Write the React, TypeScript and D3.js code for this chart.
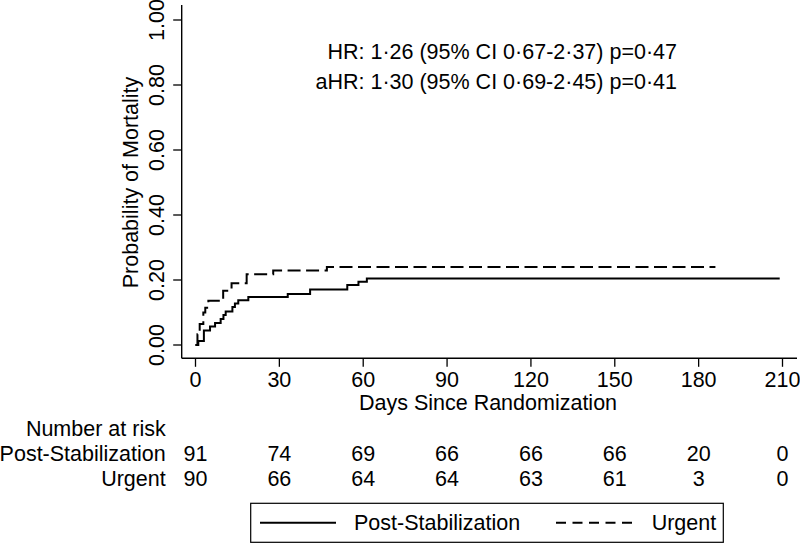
import React from "react";
import * as d3 from "d3";

const tickDays = [0, 30, 60, 90, 120, 150, 180, 210];
const yTicks = [0, 0.2, 0.4, 0.6, 0.8, 1.0];
const riskPost = [91, 74, 69, 66, 66, 66, 20, 0];
const riskUrgent = [90, 66, 64, 64, 63, 61, 3, 0];

const postTimes = [0, 1, 3, 5.2, 7, 9, 10, 10.8, 13.2, 14.1, 15.3, 18.9, 33, 41, 54.3, 58.3, 61.3];
const postProb = [0, 0.012, 0.045, 0.057, 0.068, 0.08, 0.092, 0.103, 0.117, 0.128, 0.138, 0.148, 0.157, 0.171, 0.185, 0.195, 0.205];
const postEnd = 209;

const urgTimes = [0, 0.7, 1.5, 2.8, 3.5, 4.6, 9.9, 12.9, 18.3, 27.8, 47];
const urgProb = [0, 0.033, 0.065, 0.1, 0.115, 0.136, 0.167, 0.19, 0.218, 0.229, 0.24];
const urgEnd = 186;

const annotations = [
  "HR: 1·26 (95% CI 0·67-2·37) p=0·47",
  "aHR: 1·30 (95% CI 0·69-2·45) p=0·41",
];

const FONT = "'Liberation Sans', Arial, sans-serif";
const FS = 21.5;

export default function App() {
  const x = d3.scaleLinear().domain([0, 210]).range([195.5, 782.5]);
  const y = d3.scaleLinear().domain([0, 1]).range([345, 20]);

  const line = d3
    .line<[number, number]>()
    .x((d) => x(d[0]))
    .y((d) => y(d[1]))
    .curve(d3.curveStepAfter);

  const postPts: [number, number][] = postTimes.map((t, i) => [t, postProb[i]]);
  postPts.push([postEnd, postProb[postProb.length - 1]]);
  const urgPts: [number, number][] = urgTimes.map((t, i) => [t, urgProb[i]]);
  urgPts.push([urgEnd, urgProb[urgProb.length - 1]]);

  const axisY = 358.3;
  const axisX = 181.7;

  return (
    <svg
      width={800}
      height={544}
      style={{ position: "absolute", left: 0, top: 0, background: "#fff" }}
      fontFamily={FONT}
      fontSize={FS}
    >
      <rect x={0} y={0} width={800} height={544} fill="#fff" />
      {/* axes */}
      <line x1={axisX} x2={axisX} y1={5} y2={axisY} stroke="#000" strokeWidth={1.4} />
      <line x1={axisX} x2={797} y1={axisY} y2={axisY} stroke="#000" strokeWidth={1.4} />
      {yTicks.map((v) => (
        <g key={"y" + v}>
          <line x1={axisX - 8.5} x2={axisX} y1={y(v)} y2={y(v)} stroke="#000" strokeWidth={1.3} />
          <text
            transform={`translate(163.5,${y(v)}) rotate(-90)`}
            textAnchor="middle"
          >
            {d3.format(".2f")(v)}
          </text>
        </g>
      ))}
      <text transform={`translate(137.5,${y(0.5)}) rotate(-90)`} textAnchor="middle">
        Probability of Mortality
      </text>
      {tickDays.map((d) => (
        <g key={"x" + d}>
          <line x1={x(d)} x2={x(d)} y1={axisY} y2={axisY + 8.5} stroke="#000" strokeWidth={1.3} />
          <text x={x(d)} y={387} textAnchor="middle">
            {d}
          </text>
        </g>
      ))}
      <text x={488} y={410} textAnchor="middle">
        Days Since Randomization
      </text>

      {/* curves */}
      <path d={line(postPts) || ""} fill="none" stroke="#000" strokeWidth={2} />
      <path d={line(urgPts) || ""} fill="none" stroke="#000" strokeWidth={2} strokeDasharray="13,5.5" />

      {/* annotations */}
      {annotations.map((a, i) => (
        <text key={a} x={677} y={59.3 + i * 30} textAnchor="end">
          {a}
        </text>
      ))}

      {/* risk table */}
      <text x={165.7} y={436} textAnchor="end">Number at risk</text>
      <text x={165.7} y={461} textAnchor="end">Post-Stabilization</text>
      <text x={165.7} y={485.7} textAnchor="end">Urgent</text>
      {tickDays.map((d, i) => (
        <g key={"r" + d}>
          <text x={x(d)} y={461} textAnchor="middle">{riskPost[i]}</text>
          <text x={x(d)} y={485.7} textAnchor="middle">{riskUrgent[i]}</text>
        </g>
      ))}

      {/* legend */}
      <rect x={250.7} y={503.3} width={472.6} height={39} fill="none" stroke="#000" strokeWidth={1.2} />
      <line x1={260} x2={336} y1={522.7} y2={522.7} stroke="#000" strokeWidth={2} />
      <text x={354} y={529.5}>Post-Stabilization</text>
      <line x1={556} x2={632} y1={522.7} y2={522.7} stroke="#000" strokeWidth={2} strokeDasharray="10,6.5" />
      <text x={651.7} y={529.5}>Urgent</text>
    </svg>
  );
}
